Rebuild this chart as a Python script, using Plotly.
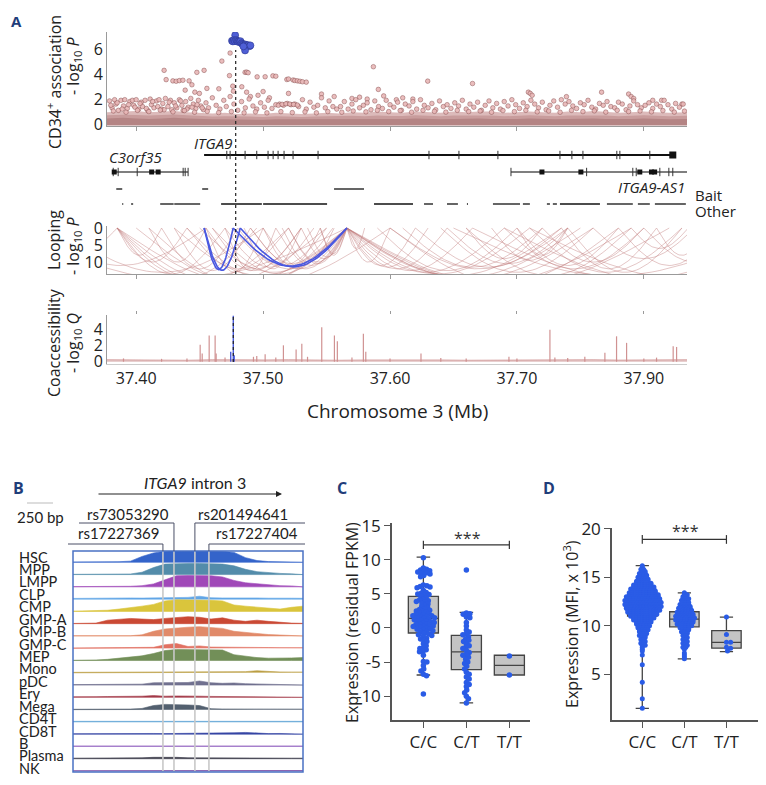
import math
import plotly.graph_objects as go

# The page body has an 8px margin; the figure is sized to fit the 766x785 window exactly.
OFF = 8
W, H = 766 - 2 * OFF, 785 - 2 * OFF
def PX(x): return (x - OFF) / W
def PY(y): return 1 - (y - OFF) / H
def xd(a, b): return [PX(a), PX(b)]
def yd(top, bot): return [PY(bot), PY(top)]

FA = "Open Sans, Noto Sans, sans-serif"
FB = "Lato, Open Sans, sans-serif"

# ================= Panel A data =================
TICK_MB = [37.40, 37.50, 37.60, 37.70, 37.80]
TICK_TEXT = ["37.40", "37.50", "37.60", "37.70", "37.90"]
MB_RANGE = [37.377, 37.834]
LEAD_MB = 37.4784
LEAD_MB_COACC = 37.4765

BLUE_MB = [37.4780, 37.4755, 37.4762, 37.4770, 37.4778, 37.4788, 37.4795, 37.4800, 37.4808, 37.4815,
           37.4822, 37.4830, 37.4838, 37.4845, 37.4852, 37.4860, 37.4868, 37.4876, 37.4884, 37.4893,
           37.4900, 37.4858, 37.4845]
BLUE_P = [7.1, 6.65, 6.6, 6.7, 6.62, 6.7, 6.65, 6.58, 6.6, 6.55,
          6.62, 6.45, 6.4, 6.35, 6.3, 6.35, 6.3, 6.25, 6.3, 6.22,
          6.28, 5.88, 6.2]

HIGH_PTS = [(37.4220, 4.29), (37.4236, 3.55), (37.4289, 3.45), (37.4315, 3.42), (37.4340, 3.47),
            (37.4368, 3.5), (37.4417, 3.45), (37.4439, 3.14), (37.4478, 4.13), (37.4535, 4.29),
            (37.4675, 5.03), (37.4740, 5.67), (37.4735, 3.87), (37.4386, 2.71), (37.4462, 2.55),
            (37.4557, 2.85), (37.4651, 2.82), (37.4498, 2.45), (37.4761, 3.03), (37.4766, 2.63),
            (37.4858, 4.13), (37.4870, 4.15), (37.4882, 4.1), (37.4953, 3.77), (37.5016, 3.78),
            (37.5077, 3.85), (37.5100, 3.82), (37.5187, 3.56), (37.5200, 3.6), (37.5236, 3.52),
            (37.5250, 3.48), (37.5270, 3.45), (37.5290, 3.42), (37.5310, 3.38), (37.5340, 3.35),
            (37.4832, 2.98), (37.5869, 4.58), (37.5908, 2.77), (37.4870, 2.55), (37.5200, 2.45),
            (37.6297, 3.43), (37.6650, 3.24), (37.7090, 2.55), (37.7105, 2.45), (37.7120, 2.3),
            (37.7390, 2.19), (37.7667, 2.55), (37.7880, 2.4), (37.7900, 2.2), (37.7920, 2.05),
            (37.8070, 1.9), (37.8140, 1.9), (37.8300, 1.6), (37.4900, 2.2), (37.4960, 2.3),
            (37.5050, 2.1), (37.5000, 2.6), (37.5460, 2.4), (37.5560, 2.2), (37.5700, 2.05),
            (37.5760, 2.15), (37.5820, 2.0), (37.5950, 2.25), (37.6100, 2.1), (37.6180, 2.0),
            (37.6050, 1.95)]

FRINGE_LEFT = [(37.379, 1.85), (37.381, 1.3), (37.383, 1.95), (37.384, 1.6), (37.386, 1.1), (37.388, 1.9),
               (37.390, 1.45), (37.391, 1.95), (37.393, 1.25), (37.395, 1.8), (37.397, 1.9), (37.398, 1.5),
               (37.400, 1.95), (37.402, 1.2), (37.404, 1.75), (37.405, 1.4), (37.407, 1.9), (37.409, 1.1),
               (37.411, 2.0), (37.412, 1.55), (37.414, 1.3), (37.416, 1.85), (37.418, 1.95), (37.420, 1.2),
               (37.421, 1.65), (37.423, 2.05), (37.425, 1.4), (37.427, 1.9), (37.428, 1.15), (37.430, 1.7),
               (37.432, 1.3), (37.434, 1.95), (37.436, 1.5), (37.437, 1.1), (37.439, 1.8), (37.441, 1.35),
               (37.443, 2.05), (37.445, 1.6), (37.447, 1.25), (37.449, 1.9), (37.451, 1.45), (37.453, 1.15),
               (37.455, 1.7), (37.380, 1.5), (37.385, 1.7), (37.389, 1.2), (37.394, 1.55), (37.399, 1.35),
               (37.403, 1.65), (37.408, 1.25), (37.413, 1.8), (37.417, 1.4), (37.422, 1.15), (37.426, 1.75),
               (37.431, 1.45), (37.435, 1.85), (37.440, 1.2), (37.444, 1.35), (37.448, 1.55), (37.452, 1.3)]
FRINGE_MID = [(37.457, 1.3), (37.460, 2.1), (37.463, 1.5), (37.466, 1.2), (37.469, 1.9), (37.471, 1.4),
              (37.474, 2.2), (37.477, 1.6), (37.480, 1.1), (37.483, 1.8), (37.486, 1.3), (37.489, 2.0),
              (37.492, 1.45), (37.495, 1.2), (37.498, 1.7), (37.501, 1.35), (37.504, 1.9), (37.507, 1.25),
              (37.510, 1.55), (37.513, 1.6), (37.516, 1.5), (37.519, 1.65), (37.522, 1.55), (37.525, 1.6),
              (37.528, 1.4), (37.531, 1.95), (37.534, 1.2), (37.537, 1.75), (37.540, 1.35), (37.543, 1.5),
              (37.546, 2.1), (37.549, 1.3), (37.552, 1.85), (37.555, 1.4), (37.558, 1.2), (37.512, 1.5),
              (37.515, 1.58), (37.518, 1.62), (37.521, 1.6), (37.524, 1.57), (37.527, 1.52)]
FRINGE_RIGHT = [(37.561, 1.4), (37.564, 1.8), (37.567, 1.2), (37.570, 1.6), (37.573, 1.95), (37.576, 1.3),
                (37.579, 1.5), (37.582, 1.7), (37.585, 1.15), (37.588, 1.85), (37.591, 1.4), (37.594, 1.25),
                (37.597, 1.9), (37.600, 1.55), (37.603, 1.35), (37.606, 1.75), (37.609, 1.1), (37.612, 1.6),
                (37.615, 1.45), (37.618, 1.8), (37.621, 1.2), (37.624, 1.95), (37.627, 1.5), (37.630, 1.3),
                (37.633, 1.65), (37.636, 1.15), (37.639, 1.85), (37.642, 1.4), (37.645, 1.55), (37.648, 1.25),
                (37.651, 1.7), (37.654, 1.45), (37.657, 1.9), (37.660, 1.2), (37.663, 1.6), (37.666, 1.35),
                (37.669, 1.75), (37.672, 1.1), (37.675, 1.5), (37.678, 1.85), (37.681, 1.3), (37.684, 1.65),
                (37.687, 1.2), (37.690, 1.8), (37.693, 1.45), (37.696, 1.95), (37.699, 1.55), (37.702, 1.25),
                (37.705, 1.7), (37.708, 1.4), (37.711, 1.9), (37.714, 1.6), (37.717, 1.3), (37.720, 1.75),
                (37.723, 1.15), (37.726, 1.5), (37.729, 1.85), (37.732, 1.35), (37.735, 1.95), (37.738, 1.6),
                (37.741, 1.8), (37.744, 1.45), (37.747, 1.25), (37.750, 1.7), (37.753, 1.55), (37.756, 1.9),
                (37.759, 1.35), (37.762, 1.2), (37.765, 1.65), (37.768, 1.5), (37.771, 1.8), (37.774, 1.4),
                (37.777, 1.3), (37.780, 1.75), (37.783, 1.6), (37.786, 1.15), (37.789, 1.45), (37.792, 1.85),
                (37.795, 1.55), (37.798, 1.3), (37.801, 1.5), (37.804, 1.7), (37.807, 1.25), (37.810, 1.6),
                (37.813, 1.4), (37.816, 1.9), (37.819, 1.55), (37.822, 1.2), (37.825, 1.65), (37.828, 1.35),
                (37.831, 1.6)]
FRINGE_LOW = [(37.382, 1.05), (37.392, 0.95), (37.401, 1.1), (37.410, 1.0), (37.419, 1.12), (37.429, 0.98),
              (37.438, 1.08), (37.446, 0.95), (37.456, 1.02), (37.465, 0.92), (37.475, 1.0), (37.485, 0.9),
              (37.494, 0.98), (37.503, 0.9), (37.514, 1.0), (37.523, 0.92), (37.533, 0.98), (37.542, 0.9),
              (37.551, 1.0), (37.562, 0.95), (37.571, 1.05), (37.581, 0.98), (37.590, 1.1), (37.599, 1.0),
              (37.608, 1.08), (37.617, 0.95), (37.626, 1.1), (37.635, 1.02), (37.644, 0.96), (37.653, 1.1),
              (37.662, 1.0), (37.671, 1.05), (37.680, 0.95), (37.689, 1.08), (37.698, 1.0), (37.707, 1.1),
              (37.716, 0.98), (37.725, 1.05), (37.734, 0.95), (37.743, 1.1), (37.752, 1.0), (37.761, 1.06),
              (37.770, 0.96), (37.779, 1.1), (37.788, 1.0), (37.797, 1.05), (37.806, 0.98), (37.815, 1.08),
              (37.824, 0.96), (37.832, 1.04)]

BAND_MB = [37.377, 37.39, 37.40, 37.41, 37.42, 37.43, 37.44, 37.45, 37.46, 37.47, 37.48, 37.49, 37.50,
           37.51, 37.52, 37.53, 37.54, 37.55, 37.56, 37.57, 37.58, 37.59, 37.60, 37.61, 37.62, 37.63,
           37.64, 37.65, 37.66, 37.67, 37.68, 37.69, 37.70, 37.71, 37.72, 37.73, 37.74, 37.75, 37.76,
           37.77, 37.78, 37.79, 37.80, 37.81, 37.82, 37.834]
BAND_TOP = [0.95, 1.0, 1.05, 0.95, 1.0, 1.05, 0.95, 0.9, 0.85, 0.9, 0.8, 0.85, 0.8, 0.9, 0.85, 0.8,
            0.85, 0.9, 0.85, 0.95, 0.9, 1.0, 0.95, 0.9, 1.0, 0.95, 0.9, 1.0, 0.95, 1.0, 1.0, 0.9,
            0.95, 1.0, 0.95, 0.9, 1.0, 0.95, 1.05, 1.0, 0.9, 0.95, 1.0, 0.95, 0.9, 0.95]
BAND_MID = [0.7, 0.75, 0.72, 0.68, 0.72, 0.76, 0.7, 0.65, 0.6, 0.62, 0.58, 0.6, 0.57, 0.62, 0.6, 0.57,
            0.6, 0.62, 0.6, 0.66, 0.62, 0.68, 0.65, 0.64, 0.7, 0.66, 0.62, 0.68, 0.68, 0.7, 0.68, 0.62,
            0.66, 0.7, 0.66, 0.62, 0.68, 0.68, 0.72, 0.68, 0.62, 0.66, 0.7, 0.66, 0.62, 0.66]
BAND_CORE = [0.45, 0.5, 0.45, 0.4, 0.45, 0.5, 0.45, 0.4, 0.38, 0.38, 0.35, 0.38, 0.35, 0.38, 0.38, 0.35,
             0.38, 0.38, 0.38, 0.4, 0.38, 0.4, 0.38, 0.4, 0.45, 0.4, 0.38, 0.4, 0.45, 0.45, 0.4, 0.38,
             0.4, 0.45, 0.4, 0.38, 0.4, 0.45, 0.45, 0.4, 0.38, 0.4, 0.45, 0.4, 0.38, 0.4]

# genes (Mb)
ITGA9_SPAN = [37.4535, 37.8228]
ITGA9_TICKS = [37.4714, 37.4740, 37.4858, 37.4950, 37.5039, 37.5079, 37.5118, 37.5165, 37.5236,
               37.5433, 37.6307, 37.6543, 37.6850, 37.7339, 37.7433, 37.7520, 37.7787, 37.7811, 37.8047]
ITGA9_BOX = [37.8228]
C3_SPAN = [37.3819, 37.4409]
C3_TICKS = [37.3858, 37.4008, 37.4370, 37.4386]
C3_BOX = [37.3827, 37.4122, 37.4173]
AS1_SPAN = [37.6953, 37.8346]
AS1_TICKS = [37.7549, 37.7913, 37.7940, 37.8126, 37.8197, 37.8228]
AS1_BOX = [37.7197, 37.7504, 37.7968, 37.8060, 37.8085]
BAIT_START = [37.3843, 37.4520, 37.5559]
BAIT_END = [37.3890, 37.4567, 37.5795]
OTHER_START = [37.3890, 37.3960, 37.4189, 37.4300, 37.4669, 37.5000, 37.5874, 37.6268, 37.6449, 37.6606,
               37.6811, 37.7047, 37.7236, 37.7283, 37.7339, 37.7709, 37.7953, 37.8087]
OTHER_END = [37.3898, 37.3976, 37.4295, 37.4504, 37.4990, 37.5504, 37.6181, 37.6339, 37.6535, 37.6614,
             37.7024, 37.7102, 37.7260, 37.7315, 37.7654, 37.7913, 37.8047, 37.8331]

# looping (anchor A, anchor B, -log10 P)
BLUE_LOOP_A = [37.4535, 37.4535, 37.4764, 37.4820]
BLUE_LOOP_B = [37.4764, 37.4820, 37.5660, 37.5660]
BLUE_LOOP_D = [12.2, 12.4, 11.2, 11.4]
LOOP_A = [37.385, 37.385, 37.385, 37.385, 37.385, 37.385, 37.385, 37.330, 37.320, 37.340, 37.300,
          37.410, 37.420, 37.430, 37.440, 37.455, 37.455, 37.460, 37.470, 37.480, 37.490, 37.500,
          37.510, 37.520, 37.530, 37.400, 37.430, 37.450, 37.475, 37.535, 37.545,
          37.566, 37.566, 37.566, 37.566, 37.566, 37.566, 37.566, 37.566, 37.566,
          37.600, 37.620, 37.645, 37.660, 37.680, 37.700, 37.700, 37.720, 37.735, 37.740, 37.760,
          37.780, 37.790, 37.800, 37.810, 37.650, 37.665, 37.690, 37.710, 37.590, 37.610,
          37.410, 37.440, 37.460, 37.490, 37.520, 37.545, 37.566, 37.566, 37.566, 37.566,
          37.640, 37.660, 37.690, 37.710, 37.600, 37.470, 37.500, 37.485, 37.515]
LOOP_B = [37.420, 37.440, 37.470, 37.495, 37.520, 37.550, 37.600, 37.385, 37.455, 37.500, 37.566,
          37.455, 37.480, 37.490, 37.520, 37.500, 37.530, 37.530, 37.540, 37.550, 37.555, 37.566,
          37.566, 37.566, 37.566, 37.566, 37.566, 37.566, 37.566, 37.566, 37.566,
          37.600, 37.620, 37.645, 37.665, 37.690, 37.710, 37.735, 37.760, 37.790,
          37.740, 37.735, 37.740, 37.720, 37.740, 37.740, 37.780, 37.800, 37.810, 37.830, 37.840,
          37.860, 37.835, 37.880, 37.850, 37.900, 37.920, 37.950, 37.960, 37.700, 37.720,
          37.566, 37.566, 37.566, 37.566, 37.566, 37.566, 37.580, 37.630, 37.750, 37.820,
          37.760, 37.790, 37.800, 37.830, 37.780, 37.510, 37.545, 37.530, 37.556]
LOOP_D = [8.0, 10.0, 13.5, 14.5, 15.5, 16.0, 17.0, 7.0, 11.0, 13.0, 15.0,
          10.0, 12.0, 12.5, 12.0, 13.0, 12.5, 12.0, 11.5, 11.0, 10.5, 12.0,
          11.0, 10.0, 9.0, 16.0, 14.0, 13.0, 12.0, 8.5, 7.5,
          10.0, 11.0, 12.0, 12.5, 13.0, 13.5, 14.0, 15.0, 16.0,
          12.0, 11.5, 10.5, 9.0, 9.5, 8.0, 11.0, 10.0, 12.0, 13.0, 9.0,
          11.0, 6.0, 10.0, 8.0, 14.0, 15.0, 16.0, 15.0, 12.5, 11.5,
          17.0, 15.0, 13.5, 12.0, 10.5, 8.0, 6.0, 11.5, 14.5, 17.0,
          13.0, 14.0, 12.0, 13.0, 16.0, 12.5, 11.0, 12.0, 10.0]

# coaccessibility spikes
SPIKE_MB = [37.4504, 37.4520, 37.4575, 37.4622, 37.4630, 37.4924, 37.5016, 37.5160, 37.5260, 37.5305,
            37.5462, 37.5562, 37.5585, 37.5790, 37.5809, 37.6244, 37.6937, 37.7260, 37.7299, 37.7535,
            37.7693, 37.7785, 37.7864, 37.8231, 37.8258, 37.3900, 37.4200, 37.4400, 37.4700, 37.4950,
            37.5100, 37.5350, 37.5700, 37.6000, 37.6400, 37.6600, 37.7000, 37.7400, 37.8000, 37.8100]
SPIKE_Q = [2.06, 1.0, 3.2, 3.2, 1.0, 0.6, 0.9, 2.0, 1.5, 2.2,
           4.2, 3.2, 2.5, 3.4, 1.2, 1.0, 0.6, 3.9, 0.5, 0.6,
           1.1, 3.1, 2.3, 1.9, 1.8, 0.4, 0.35, 0.4, 0.5, 0.7,
           0.5, 0.6, 0.5, 0.4, 0.45, 0.4, 0.4, 0.45, 0.4, 0.5]
BLUE_SPIKE_MB = [37.4765, 37.4745, 37.4772]
BLUE_SPIKE_Q = [5.6, 1.2, 0.8]
COACC_BASE_MB = [37.377, 37.40, 37.42, 37.44, 37.46, 37.48, 37.50, 37.52, 37.54, 37.56, 37.58, 37.60,
                 37.62, 37.64, 37.66, 37.68, 37.70, 37.72, 37.74, 37.76, 37.78, 37.80, 37.82, 37.834]
COACC_BASE_Q = [0.25, 0.2, 0.22, 0.18, 0.25, 0.2, 0.22, 0.25, 0.2, 0.18, 0.22, 0.25,
                0.2, 0.22, 0.18, 0.2, 0.25, 0.22, 0.2, 0.25, 0.2, 0.22, 0.2, 0.25]

# ================= Panel B data =================
TRACK_NAMES = ["HSC", "MPP", "LMPP", "CLP", "CMP", "GMP-A", "GMP-B", "GMP-C", "MEP", "Mono",
               "pDC", "Ery", "Mega", "CD4T", "CD8T", "B", "Plasma", "NK"]
TRACK_COLORS = ["#2a5cc8", "#4a86a6", "#9b3fb5", "#5aa2e6", "#d9c232", "#c8402a", "#e08462", "#e06a5a",
                "#6b8a50", "#b89a3a", "#6a6a8a", "#a03040", "#4a5868", "#62a6d6", "#2c3ca0", "#9060c0",
                "#303040", "#7040a0"]
TRACK_U = [0, 5, 10, 15, 20, 25, 30, 35, 40, 45, 50, 55, 60, 65, 70, 75, 80, 85, 90, 95, 100]
HSC_H = [0.03, 0.03, 0.03, 0.03, 0.05, 0.1, 0.5, 0.8, 0.95, 1.0, 1.0, 1.0, 0.98, 0.95, 0.85, 0.4, 0.15, 0.06, 0.04, 0.03, 0.03]
MPP_H = [0.02, 0.02, 0.02, 0.02, 0.03, 0.05, 0.2, 0.6, 0.9, 0.95, 0.95, 0.95, 0.93, 0.9, 0.75, 0.45, 0.25, 0.15, 0.1, 0.06, 0.05]
LMPP_H = [0.02, 0.02, 0.02, 0.02, 0.02, 0.05, 0.1, 0.25, 0.6, 0.95, 0.97, 0.97, 0.95, 0.85, 0.55, 0.35, 0.25, 0.15, 0.1, 0.08, 0.06]
CLP_H = [0.06, 0.08, 0.07, 0.1, 0.08, 0.1, 0.09, 0.12, 0.1, 0.12, 0.15, 0.25, 0.12, 0.1, 0.12, 0.08, 0.1, 0.08, 0.1, 0.08, 0.07]
CMP_H = [0.02, 0.03, 0.05, 0.1, 0.2, 0.3, 0.45, 0.6, 0.9, 1.0, 1.0, 1.0, 0.95, 0.9, 0.55, 0.45, 0.35, 0.3, 0.2, 0.35, 0.45]
GMPA_H = [0.02, 0.02, 0.05, 0.3, 0.35, 0.45, 0.4, 0.35, 0.45, 0.5, 0.6, 0.55, 0.4, 0.5, 0.3, 0.2, 0.3, 0.2, 0.1, 0.05, 0.03]
GMPB_H = [0.02, 0.02, 0.02, 0.02, 0.02, 0.02, 0.1, 0.4, 0.6, 0.7, 0.75, 0.8, 0.7, 0.65, 0.4, 0.3, 0.2, 0.12, 0.08, 0.05, 0.03]
GMPC_H = [0.02, 0.02, 0.02, 0.02, 0.02, 0.02, 0.03, 0.08, 0.3, 0.4, 0.15, 0.2, 0.1, 0.1, 0.12, 0.1, 0.08, 0.06, 0.05, 0.05, 0.04]
MEP_H = [0.02, 0.02, 0.05, 0.1, 0.2, 0.3, 0.4, 0.6, 0.85, 0.95, 0.95, 0.95, 0.95, 0.9, 0.5, 0.35, 0.25, 0.2, 0.18, 0.22, 0.25]
MONO_H = [0.04, 0.04, 0.05, 0.05, 0.06, 0.05, 0.06, 0.07, 0.06, 0.05, 0.06, 0.08, 0.06, 0.07, 0.08, 0.1, 0.18, 0.1, 0.06, 0.05, 0.05]
PDC_H = [0.04, 0.04, 0.04, 0.04, 0.05, 0.06, 0.08, 0.2, 0.22, 0.2, 0.22, 0.35, 0.2, 0.15, 0.18, 0.12, 0.1, 0.08, 0.06, 0.05, 0.05]
ERY_H = [0.05, 0.08, 0.06, 0.07, 0.06, 0.08, 0.1, 0.15, 0.1, 0.12, 0.08, 0.1, 0.08, 0.07, 0.08, 0.06, 0.07, 0.06, 0.08, 0.06, 0.05]
MEGA_H = [0.03, 0.03, 0.03, 0.03, 0.04, 0.05, 0.1, 0.35, 0.45, 0.45, 0.4, 0.35, 0.08, 0.05, 0.05, 0.04, 0.04, 0.04, 0.03, 0.03, 0.03]
CD4T_H = [0.05, 0.05, 0.06, 0.05, 0.06, 0.05, 0.06, 0.07, 0.06, 0.05, 0.06, 0.05, 0.06, 0.05, 0.06, 0.05, 0.06, 0.05, 0.06, 0.05, 0.05]
CD8T_H = [0.04, 0.05, 0.05, 0.06, 0.05, 0.06, 0.1, 0.06, 0.05, 0.06, 0.05, 0.06, 0.05, 0.06, 0.12, 0.15, 0.08, 0.05, 0.06, 0.05, 0.05]
B_H = [0.05, 0.05, 0.06, 0.05, 0.07, 0.06, 0.07, 0.06, 0.08, 0.06, 0.07, 0.06, 0.07, 0.06, 0.07, 0.06, 0.07, 0.06, 0.07, 0.06, 0.05]
PLASMA_H = [0.05, 0.05, 0.05, 0.06, 0.06, 0.07, 0.08, 0.12, 0.15, 0.12, 0.08, 0.07, 0.06, 0.06, 0.07, 0.06, 0.06, 0.05, 0.05, 0.05, 0.05]
NK_H = [0.03, 0.03, 0.03, 0.03, 0.04, 0.03, 0.04, 0.04, 0.04, 0.05, 0.04, 0.04, 0.05, 0.04, 0.05, 0.06, 0.08, 0.06, 0.05, 0.04, 0.04]
TRACK_HEIGHTS = [HSC_H, MPP_H, LMPP_H, CLP_H, CMP_H, GMPA_H, GMPB_H, GMPC_H, MEP_H, MONO_H,
                 PDC_H, ERY_H, MEGA_H, CD4T_H, CD8T_H, B_H, PLASMA_H, NK_H]
SNP_NAMES = ["rs17227369", "rs73053290", "rs201494641", "rs17227404"]
SNP_U = [39.1, 43.9, 53.0, 59.1]

# ================= Panels C, D data =================
GENO = ["C/C", "C/T", "T/T"]
C_CC = [10.3, 8.8, 8.6, 8.5, 8.4, 8.3, 8.2, 8.1, 8.0, 7.9, 7.7, 7.5, 6.3, 6.2, 6.1, 6.0, 5.9, 5.5, 5.2, 5.1,
        5.0, 4.9, 4.8, 4.6, 4.4, 4.2, 4.1, 4.0, 3.9, 3.8, 3.6, 3.5, 3.3, 3.1, 3.0, 2.8, 2.7, 2.6, 2.5, 2.4,
        2.3, 2.2, 2.1, 2.0, 1.9, 1.8, 1.8, 1.7, 1.6, 1.5, 1.5, 1.4, 1.3, 1.2, 1.1, 1.0, 1.0, 0.9, 0.8, 0.7,
        0.6, 0.5, 0.5, 0.4, 0.3, 0.2, 0.2, 0.1, 0.0, -0.1, -0.2, -0.3, -0.4, -0.5, -0.6, -0.8, -0.9, -1.0,
        -1.1, -1.3, -1.5, -1.6, -1.8, -2.0, -2.3, -2.6, -2.9, -3.0, -3.2, -3.4, -3.5, -4.0, -4.9, -5.0,
        -5.5, -6.0, -6.3, -6.8, -7.0, -9.7]
C_CT = [8.5, 2.2, 2.1, 2.0, 1.6, 1.5, 0.8, 0.3, -0.3, -0.6, -0.9, -1.0, -1.3, -1.6, -1.8, -2.0, -2.3,
        -2.6, -2.8, -3.0, -3.3, -3.6, -3.9, -4.0, -4.3, -4.6, -5.0, -5.2, -5.6, -6.0, -6.5, -6.8, -7.2,
        -7.5, -8.0, -8.3, -8.6, -9.1, -9.5, -10.0, -10.4, -11.0]
C_TT = [-4.1, -6.9]
C_Q1 = [-0.74, -6.1, -6.9]
C_MED = [1.41, -3.5, -5.5]
C_Q3 = [4.65, -1.1, -4.0]
C_LO = [-6.9, -11.0, -6.9]
C_HI = [10.4, 2.3, -4.0]

D_CC_VAL = [16.2, 16.0, 15.8, 15.6, 15.4, 15.2, 15.0, 14.8, 14.6, 14.4, 14.2, 14.0, 13.8, 13.6, 13.4, 13.2,
            13.0, 12.8, 12.6, 12.4, 12.2, 12.0, 11.8, 11.6, 11.4, 11.2, 11.0, 10.8, 10.6, 10.4, 10.2, 10.0,
            9.8, 9.6, 9.4, 9.2, 9.0, 8.8, 8.6, 8.4, 8.2, 8.0, 7.8, 7.6, 7.4, 7.0, 6.0, 4.2, 2.5, 1.5]
D_CC_CNT = [1, 1, 2, 2, 3, 3, 4, 4, 5, 6, 7, 8, 9, 9, 10, 11,
            12, 12, 13, 13, 13, 13, 12, 12, 11, 10, 9, 8, 7, 6, 5, 5,
            4, 4, 3, 3, 3, 2, 2, 2, 2, 2, 1, 1, 1, 1, 1, 1, 1, 1]
D_CT_VAL = [13.4, 13.2, 13.0, 12.8, 12.6, 12.4, 12.2, 12.0, 11.8, 11.6, 11.4, 11.2, 11.0, 10.8, 10.6, 10.4,
            10.2, 10.0, 9.8, 9.6, 9.4, 9.2, 9.0, 8.8, 8.6, 8.4, 8.2, 8.0, 7.8, 7.6, 7.2, 7.0, 6.8, 6.6]
D_CT_CNT = [1, 2, 2, 3, 3, 3, 4, 4, 5, 5, 6, 6, 7, 7, 7, 6,
            6, 5, 4, 3, 3, 2, 2, 2, 2, 2, 2, 2, 2, 1, 1, 1, 1, 1]
D_TT = [10.9, 9.1, 8.3, 8.3, 7.8, 7.7, 7.4]
D_Q1 = [11.0, 9.9, 7.7]
D_MED = [12.1, 10.7, 8.3]
D_Q3 = [12.96, 11.45, 9.5]
D_LO = [1.5, 6.6, 7.35]
D_HI = [16.2, 13.4, 10.9]

# ================= helpers =================
def swarm(vals, xppu, yppu, diam, step=0.35):
    placed = []
    offs = [0.0] * len(vals)
    order = sorted(range(len(vals)), key=lambda i: -vals[i])
    for i in order:
        yv = vals[i] * yppu
        near = [(ox, oy) for ox, oy in placed if abs(oy - yv) < diam]
        k = 0
        found = None
        while found is None:
            cands = [0.0] if k == 0 else [k * step, -k * step]
            for c in cands:
                if all((c - ox) ** 2 + (yv - oy) ** 2 >= diam * diam for ox, oy in near):
                    found = c
                    break
            k += 1
        placed.append((found, yv))
        offs[i] = found / xppu
    return offs

def rows(vals, cnts, dx):
    xs, ys = [], []
    for r, (v, c) in enumerate(zip(vals, cnts)):
        sh = dx / 2 if r % 2 else 0.0
        for k in range(c):
            xs.append((k - (c - 1) / 2) * dx + (sh if c > 1 else 0.0))
            ys.append(v)
    return xs, ys

def arc(a, b, d, n=40):
    xs, ys = [], []
    for k in range(n + 1):
        t = k / n
        xs.append(a + (b - a) * t)
        ys.append(d * math.sin(math.pi * t))
    return xs, ys

def segs(starts, ends, yv):
    xs, ys = [], []
    for s, e in zip(starts, ends):
        xs += [s, e, None]
        ys += [yv, yv, None]
    return xs, ys

fig = go.Figure()

# ---------- Manhattan ----------
for lvl, col in [(BAND_TOP, "rgb(220,186,186)"), (BAND_MID, "rgb(200,156,156)"), (BAND_CORE, "rgb(180,132,132)")]:
    fig.add_trace(go.Scatter(x=BAND_MB + BAND_MB[::-1], y=lvl + [-0.1] * len(BAND_MB),
                             fill="toself", fillcolor=col, line=dict(width=0),
                             mode="lines", xaxis="x", yaxis="y", hoverinfo="skip"))
pink = HIGH_PTS + FRINGE_LEFT + FRINGE_MID + FRINGE_RIGHT + FRINGE_LOW
fig.add_trace(go.Scatter(x=[p[0] for p in pink], y=[p[1] for p in pink], mode="markers",
                         marker=dict(size=4.6, color="rgba(232,182,182,0.9)",
                                     line=dict(width=0.6, color="rgba(120,60,60,0.7)")),
                         xaxis="x", yaxis="y"))
fig.add_trace(go.Scatter(x=BLUE_MB, y=BLUE_P, mode="markers",
                         marker=dict(size=7, color="#4f5fd6", line=dict(width=0.6, color="#2a3590")),
                         xaxis="x", yaxis="y"))

# ---------- genes ----------
R_ITGA9, R_SIDE, R_BAIT, R_OTHER = 22, 39, 56, 71
fig.add_trace(go.Scatter(x=ITGA9_SPAN, y=[R_ITGA9] * 2, mode="lines", line=dict(color="#111", width=2),
                         xaxis="x2", yaxis="y2"))
fig.add_trace(go.Scatter(x=ITGA9_TICKS, y=[R_ITGA9] * len(ITGA9_TICKS), mode="markers",
                         marker=dict(symbol="line-ns", size=6, line=dict(width=1, color="#333")),
                         xaxis="x2", yaxis="y2"))
fig.add_trace(go.Scatter(x=ITGA9_BOX, y=[R_ITGA9], mode="markers",
                         marker=dict(symbol="square", size=7, color="#111"), xaxis="x2", yaxis="y2"))
for span, ticks, boxes in [(C3_SPAN, C3_TICKS, C3_BOX), (AS1_SPAN, AS1_TICKS, AS1_BOX)]:
    fig.add_trace(go.Scatter(x=span, y=[R_SIDE] * 2, mode="lines", line=dict(color="#555", width=1.3),
                             xaxis="x2", yaxis="y2"))
    fig.add_trace(go.Scatter(x=ticks + span, y=[R_SIDE] * (len(ticks) + 2), mode="markers",
                             marker=dict(symbol="line-ns", size=6, line=dict(width=1, color="#333")),
                             xaxis="x2", yaxis="y2"))
    fig.add_trace(go.Scatter(x=boxes, y=[R_SIDE] * len(boxes), mode="markers",
                             marker=dict(symbol="square", size=5, color="#111"), xaxis="x2", yaxis="y2"))
bx, by = segs(BAIT_START, BAIT_END, R_BAIT)
fig.add_trace(go.Scatter(x=bx, y=by, mode="lines", line=dict(color="#111", width=1.3), xaxis="x2", yaxis="y2"))
ox, oy = segs(OTHER_START, OTHER_END, R_OTHER)
fig.add_trace(go.Scatter(x=ox, y=oy, mode="lines", line=dict(color="#111", width=1.3), xaxis="x2", yaxis="y2"))

# ---------- looping ----------
lx, ly = [], []
for a, b, d in zip(LOOP_A, LOOP_B, LOOP_D):
    xs, ys = arc(a, b, d)
    lx += xs + [None]
    ly += ys + [None]
fig.add_trace(go.Scatter(x=lx, y=ly, mode="lines", line=dict(color="rgba(190,120,120,0.42)", width=1),
                         xaxis="x3", yaxis="y3"))
lx, ly = [], []
for a, b, d in zip(BLUE_LOOP_A, BLUE_LOOP_B, BLUE_LOOP_D):
    xs, ys = arc(a, b, d)
    lx += xs + [None]
    ly += ys + [None]
fig.add_trace(go.Scatter(x=lx, y=ly, mode="lines", line=dict(color="#4a58e0", width=1.6),
                         xaxis="x3", yaxis="y3"))

# ---------- coaccessibility ----------
fig.add_trace(go.Scatter(x=COACC_BASE_MB, y=COACC_BASE_Q, mode="lines", fill="tozeroy",
                         fillcolor="rgba(205,150,150,0.6)", line=dict(color="rgba(205,140,140,0.8)", width=0.8),
                         xaxis="x4", yaxis="y4"))
sx, sy = [], []
for m, q in zip(SPIKE_MB, SPIKE_Q):
    sx += [m, m, None]
    sy += [0, q, None]
fig.add_trace(go.Scatter(x=sx, y=sy, mode="lines", line=dict(color="rgba(205,140,140,0.95)", width=1.2),
                         xaxis="x4", yaxis="y4"))
sx, sy = [], []
for m, q in zip(BLUE_SPIKE_MB, BLUE_SPIKE_Q):
    sx += [m, m, None]
    sy += [0, q, None]
fig.add_trace(go.Scatter(x=sx, y=sy, mode="lines", line=dict(color="#3b4fd8", width=1.3),
                         xaxis="x4", yaxis="y4"))
# carrier for the top tick marks of the coaccessibility panel
fig.add_trace(go.Scatter(x=[TICK_MB[0]], y=[None], mode="markers", xaxis="x8", yaxis="y4", hoverinfo="skip"))

# ---------- Panel B tracks ----------
for i, (name, col, hts) in enumerate(zip(TRACK_NAMES, TRACK_COLORS, TRACK_HEIGHTS)):
    base = 17 - i + 0.08
    fig.add_trace(go.Scatter(x=TRACK_U + TRACK_U[::-1],
                             y=[base + h * 0.95 for h in hts] + [base] * len(TRACK_U),
                             fill="toself", fillcolor=col, line=dict(width=0.6, color=col),
                             mode="lines", opacity=0.95, xaxis="x5", yaxis="y5"))

# ---------- Panel C ----------
fig.add_trace(go.Box(x=[0, 1, 2], q1=C_Q1, median=C_MED, q3=C_Q3, lowerfence=C_LO, upperfence=C_HI,
                     width=0.7, whiskerwidth=0.45, fillcolor="#c4c4c4", line=dict(color="#444", width=1.3),
                     boxpoints=False, xaxis="x6", yaxis="y6"))
for gi, vals in enumerate([C_CC, C_CT, C_TT]):
    offs = swarm(vals, 43.0, 6.8, 3.4)
    fig.add_trace(go.Scatter(x=[gi + o for o in offs], y=vals, mode="markers",
                             marker=dict(size=5.5, color="#2a5ce6"), xaxis="x6", yaxis="y6"))

# ---------- Panel D ----------
fig.add_trace(go.Box(x=[0, 1, 2], q1=D_Q1, median=D_MED, q3=D_Q3, lowerfence=D_LO, upperfence=D_HI,
                     width=0.7, whiskerwidth=0.45, fillcolor="#c4c4c4", line=dict(color="#444", width=1.3),
                     boxpoints=False, xaxis="x7", yaxis="y7"))
for gi, (vals, cnts) in enumerate([(D_CC_VAL, D_CC_CNT), (D_CT_VAL, D_CT_CNT)]):
    ox_, oy_ = rows(vals, cnts, 2.9 / 42.0)
    fig.add_trace(go.Scatter(x=[gi + o for o in ox_], y=oy_, mode="markers",
                             marker=dict(size=5, color="#2a5ce6"), xaxis="x7", yaxis="y7"))
offs = swarm(D_TT, 42.0, 9.7, 4.0)
fig.add_trace(go.Scatter(x=[2 + o for o in offs], y=D_TT, mode="markers",
                         marker=dict(size=5, color="#2a5ce6"), xaxis="x7", yaxis="y7"))

# ================= layout =================
GREY = "#9a9a9a"
tf = dict(family=FA, size=16, color="#222")
base_x = dict(domain=xd(107, 687), range=MB_RANGE, showgrid=False, zeroline=False)
lay = dict(
    width=W, height=H, margin=dict(l=0, r=0, t=0, b=0, autoexpand=False), showlegend=False,
    paper_bgcolor="white", plot_bgcolor="rgba(0,0,0,0)",
    xaxis=dict(**base_x, anchor="y", showline=True, linecolor=GREY, linewidth=1, ticks="outside",
               ticklen=4, tickcolor=GREY, tickvals=TICK_MB, showticklabels=False),
    yaxis=dict(domain=yd(32, 126), anchor="x", range=[-0.15, 7.35], showgrid=False, zeroline=False,
               showline=True, linecolor=GREY, tickvals=[0, 2, 4, 6], ticks="", tickfont=tf),
    xaxis2=dict(**base_x, anchor="y2", visible=False),
    yaxis2=dict(domain=yd(133, 218), anchor="x2", range=[85, 0], visible=False),
    xaxis3=dict(**base_x, anchor="y3", showline=True, linecolor=GREY, linewidth=1, ticks="outside",
                ticklen=4, tickcolor=GREY, tickvals=TICK_MB, showticklabels=False),
    yaxis3=dict(domain=yd(226, 274), anchor="x3", range=[13.5, -0.6], showgrid=False, zeroline=False,
                showline=True, linecolor=GREY, tickvals=[0, 5, 10], ticks="", tickfont=tf),
    xaxis4=dict(**base_x, anchor="y4", showline=True, linecolor="#cccccc", linewidth=1, ticks="",
                tickvals=TICK_MB, ticktext=TICK_TEXT, tickfont=dict(family=FA, size=16, color="#222")),
    xaxis8=dict(range=MB_RANGE, overlaying="x4", anchor="y4", side="top", showgrid=False, zeroline=False,
                showline=False, ticks="outside", ticklen=3, tickcolor=GREY, tickvals=TICK_MB,
                showticklabels=False),
    yaxis4=dict(domain=yd(315, 364), anchor="x4", range=[-0.28, 5.7], showgrid=False, zeroline=False,
                showline=True, linecolor=GREY, tickvals=[0, 2, 4], ticks="", tickfont=tf),
    xaxis5=dict(domain=xd(73, 303), anchor="y5", range=[0, 100], visible=False),
    yaxis5=dict(domain=yd(551, 772), anchor="x5", range=[0, 18], visible=False),
    xaxis6=dict(domain=xd(392, 530), anchor="y6", range=[-0.73, 2.48], showgrid=False, zeroline=False,
                showline=True, linecolor="#555", linewidth=1.5, ticks="outside", ticklen=6, tickcolor="#555",
                tickvals=[0, 1, 2], ticktext=GENO, tickfont=dict(family=FA, size=17, color="#222")),
    yaxis6=dict(domain=yd(523, 720), anchor="x6", range=[-13.5, 15.4], showgrid=False, zeroline=False,
                showline=True, linecolor="#555", linewidth=1.5, ticks="outside", ticklen=6, tickcolor="#555",
                tickvals=[-10, -5, 0, 5, 10, 15], ticktext=["-10", "-5", "0", "5", "10", "15"],
                tickfont=dict(family=FA, size=17, color="#222")),
    xaxis7=dict(domain=xd(612, 758), anchor="y7", range=[-0.72, 2.75], showgrid=False, zeroline=False,
                showline=True, linecolor="#555", linewidth=1.5, ticks="outside", ticklen=6, tickcolor="#555",
                tickvals=[0, 1, 2], ticktext=GENO, tickfont=dict(family=FA, size=17, color="#222")),
    yaxis7=dict(domain=yd(528, 720), anchor="x7", range=[0.3, 20.08], showgrid=False, zeroline=False,
                showline=True, linecolor="#555", linewidth=1.5, ticks="outside", ticklen=6, tickcolor="#555",
                tickvals=[5, 10, 15, 20], tickfont=dict(family=FA, size=17, color="#222")),
)
fig.update_layout(**lay)

shapes = []
shapes.append(dict(type="line", xref="x", yref="paper", x0=LEAD_MB, x1=LEAD_MB, y0=PY(274), y1=PY(50),
                   line=dict(color="#222", width=1.2, dash="dot")))
shapes.append(dict(type="line", xref="x4", yref="paper", x0=LEAD_MB_COACC, x1=LEAD_MB_COACC, y0=PY(362),
                   y1=PY(316), line=dict(color="#222", width=1.2, dash="dot")))
for u in SNP_U:
    shapes.append(dict(type="line", xref="x5", yref="y5", x0=u, x1=u, y0=0, y1=18,
                       line=dict(color="#c8c8c8", width=1.6), layer="above"))
shapes.append(dict(type="rect", xref="paper", yref="paper", x0=PX(73), x1=PX(303), y0=PY(772), y1=PY(551),
                   line=dict(color="#4a72c4", width=1.5)))
LEADER_Y = [544, 523, 523, 544]
LEADER_FAR = [68, 79, 305, 305]
for u, ly_, far in zip(SNP_U, LEADER_Y, LEADER_FAR):
    upx = 73 + u * 2.3
    shapes.append(dict(type="line", xref="paper", yref="paper", x0=PX(upx), x1=PX(upx), y0=PY(551),
                       y1=PY(ly_), line=dict(color="#4a4f66", width=1)))
    shapes.append(dict(type="line", xref="paper", yref="paper", x0=PX(upx), x1=PX(far), y0=PY(ly_),
                       y1=PY(ly_), line=dict(color="#4a4f66", width=1)))
shapes.append(dict(type="line", xref="paper", yref="paper", x0=PX(27), x1=PX(53), y0=PY(503), y1=PY(503),
                   line=dict(color="#bbbbbb", width=1)))
for xa, ya, yb, h in [("x6", "y6", 12.2, 0.6), ("x7", "y7", 18.9, 0.45)]:
    shapes.append(dict(type="line", xref=xa, yref=ya, x0=0, x1=2, y0=yb, y1=yb, line=dict(color="#333", width=1.2)))
    shapes.append(dict(type="line", xref=xa, yref=ya, x0=0, x1=0, y0=yb - h, y1=yb + h, line=dict(color="#333", width=1.2)))
    shapes.append(dict(type="line", xref=xa, yref=ya, x0=2, x1=2, y0=yb - h, y1=yb + h, line=dict(color="#333", width=1.2)))
fig.update_layout(shapes=shapes)

ann = []
def T(text, x, y, size=16, fam=FA, angle=0, xa="center", ya="middle", color="#222", bold=False):
    if bold:
        text = "<b>" + text + "</b>"
    ann.append(dict(text=text, x=PX(x), y=PY(y), xref="paper", yref="paper", showarrow=False,
                    textangle=angle, xanchor=xa, yanchor=ya, font=dict(family=fam, size=size, color=color)))

NAVY = "#1f3d7a"
T("A", 9, 9, 15, color=NAVY, bold=True, xa="left", ya="top")
T("B", 11, 488, 16, color=NAVY, bold=True, xa="left")
T("C", 342, 488, 16, color=NAVY, bold=True)
T("D", 549, 488, 16, color=NAVY, bold=True)
T("CD34<sup>+</sup> association", 54, 82, 16, angle=-90)
T("- log<sub>10</sub> <i>P</i>", 73, 66, 16, angle=-90)
T("Looping", 54, 240, 16, angle=-90)
T("- log<sub>10</sub> <i>P</i>", 73, 246, 16, angle=-90)
T("Coaccessibility", 54, 343, 16, angle=-90)
T("- log<sub>10</sub> <i>Q</i>", 73, 343, 16, angle=-90)
T("Chromosome 3 (Mb)", 397, 411, 19)
T("<i>ITGA9</i>", 213, 143, 15)
T("<i>C3orf35</i>", 135, 157, 15)
T("<i>ITGA9-AS1</i>", 687, 187, 15, xa="right")
T("Bait", 693, 195, 15, xa="left")
T("Other", 693, 211, 15, xa="left")
T("<i>ITGA9</i> intron 3", 195, 482, 16, fam=FB)
T("250 bp", 15, 517, 15, fam=FB, xa="left")
T("rs73053290", 128, 514, 15, fam=FB)
T("rs201494641", 243, 514, 15, fam=FB)
T("rs17227369", 119, 533, 15, fam=FB)
T("rs17227404", 257, 533, 15, fam=FB)
for i, name in enumerate(TRACK_NAMES):
    T(name, 17, 557 + i * 12.43, 14.5, fam=FB, xa="left")
T("Expression (residual FPKM)", 352, 623, 16, angle=-90)
T("Expression (MFI, x 10<sup>3</sup>)", 571, 624, 16, angle=-90)
T("***", 467, 538, 16, color="#333")
T("***", 685, 531, 16, color="#333")
ann.append(dict(x=PX(282), y=PY(494), xref="paper", yref="paper", ax=-185, ay=0, text="",
                showarrow=True, arrowhead=2, arrowsize=1, arrowwidth=1.2, arrowcolor="#222"))
fig.update_layout(annotations=ann)

fig.write_html("out.html")
